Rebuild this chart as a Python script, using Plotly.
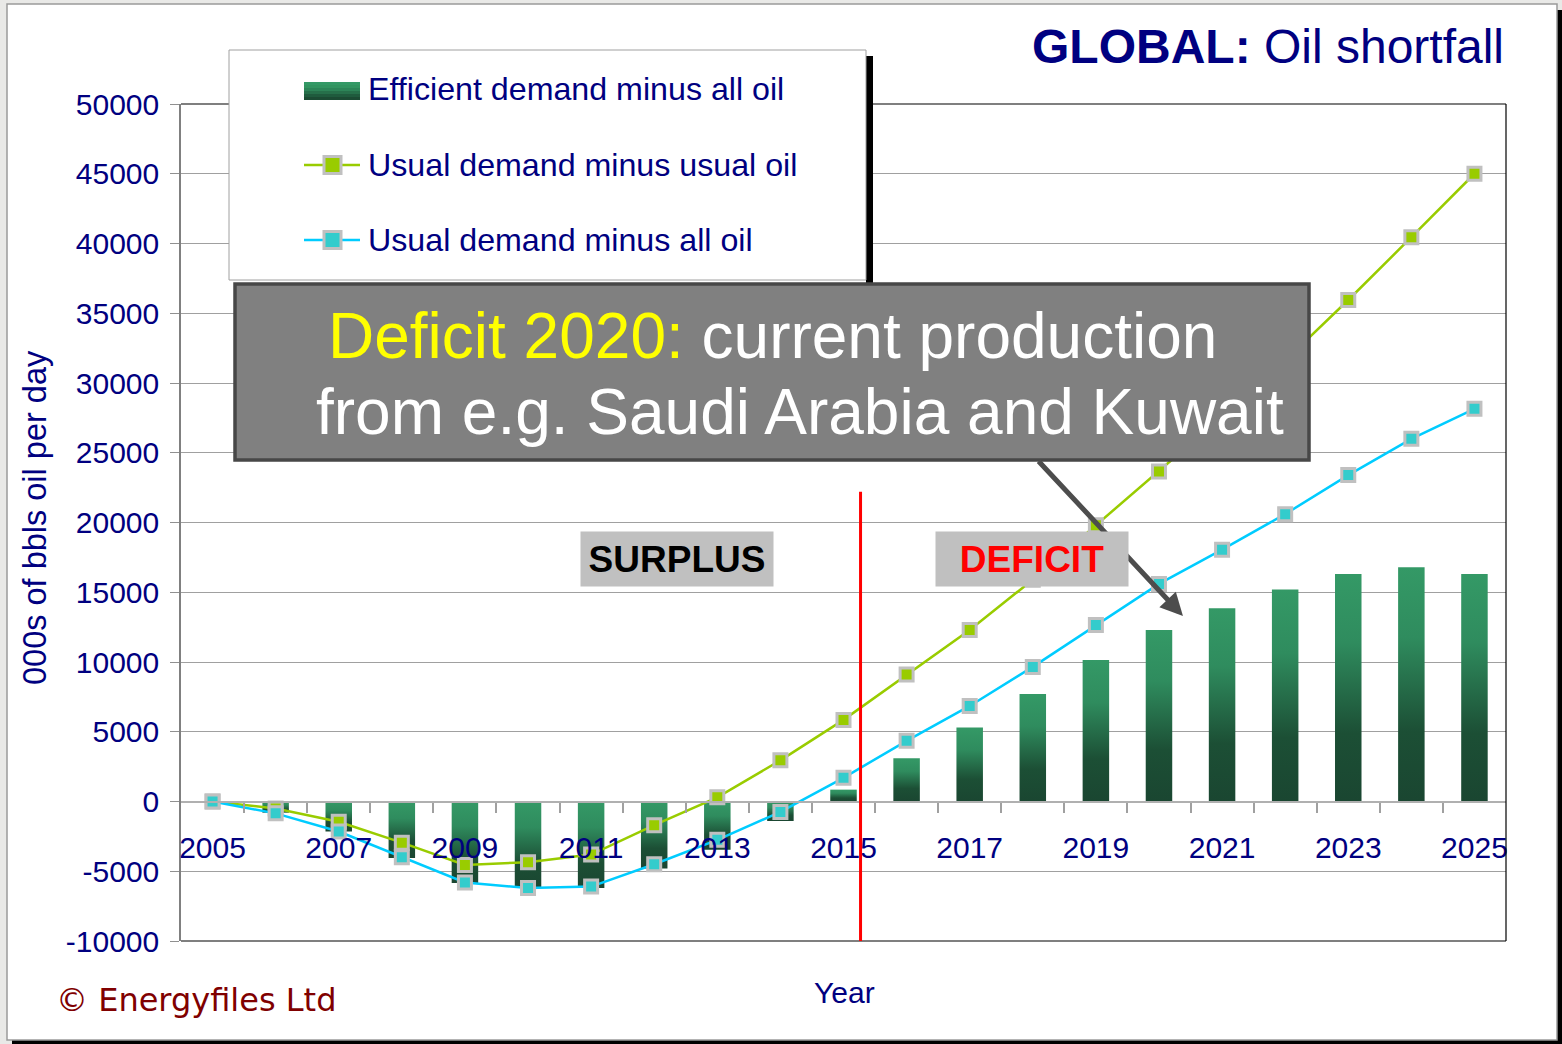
import plotly.graph_objects as go

# ---- data (thousand barrels of oil per day) ----
years = list(range(2005, 2026))
efficient_minus_all = [0, -800, -2150, -4050, -5850, -6200, -6200, -4800, -3450, -1400,
                       850, 3100, 5300, 7700, 10150, 12300, 13850, 15200, 16300, 16800, 16300]
usual_minus_usual = [0, -500, -1450, -2950, -4550, -4350, -3800, -1700, 300, 2950,
                     5850, 9100, 12300, 15900, 19800, 23650, 27600, 31600, 35950, 40450, 45000]
usual_minus_all = [0, -850, -2150, -4000, -5800, -6200, -6100, -4500, -2750, -750,
                   1700, 4350, 6850, 9650, 12650, 15600, 18050, 20600, 23400, 26000, 28150]
year_ticks = list(range(2005, 2026, 2))
value_ticks = list(range(-10000, 50001, 5000))
series_names = ["Efficient demand minus all oil", "Usual demand minus usual oil",
                "Usual demand minus all oil"]
divide_year = 2015.27

W, H = 1562, 1044
L, R, T, B = 181, 1506, 104, 941
NAVY = "#000080"
GREEN = "#99cc00"
CYAN_LINE = "#00ccff"
CYAN_FILL = "#33cccc"
BAR_SCALE = [[0, "#1a4631"], [0.3, "#1c4f35"], [0.7, "#2f8c5e"], [1, "#349966"]]
FONT = "Liberation Sans, Arial"


def px(x):
    return (x - L) / (R - L)


def py(y):
    return (B - y) / (B - T)


fig = go.Figure()

# bars with a vertical shade, one filled box per year
half = 0.21
for yr, v in zip(years, efficient_minus_all):
    if v == 0:
        continue
    fig.add_trace(go.Scatter(
        x=[yr - half, yr + half, yr + half, yr - half, yr - half],
        y=[0, 0, v, v, 0],
        mode="lines", fill="toself", line=dict(width=0),
        fillgradient=dict(type="vertical", colorscale=BAR_SCALE),
        hoverinfo="skip", showlegend=False,
    ))

marker_common = dict(symbol="square", size=13, line=dict(color="#c0c0c0", width=3))
fig.add_trace(go.Scatter(
    x=years, y=usual_minus_usual, mode="lines+markers", name=series_names[1],
    line=dict(color=GREEN, width=2.5),
    marker=dict(color=GREEN, **marker_common), showlegend=False,
))
fig.add_trace(go.Scatter(
    x=years, y=usual_minus_all, mode="lines+markers", name=series_names[2],
    line=dict(color=CYAN_LINE, width=2.5),
    marker=dict(color=CYAN_FILL, **marker_common), showlegend=False,
))

shapes = []
# white panel with shadow
shapes.append(dict(type="rect", xref="paper", yref="paper", layer="below",
                   x0=px(1557), x1=px(1562), y0=py(1044), y1=py(10),
                   fillcolor="#000000", line=dict(width=0)))
shapes.append(dict(type="rect", xref="paper", yref="paper", layer="below",
                   x0=px(12), x1=px(1562), y0=py(1044), y1=py(1040),
                   fillcolor="#000000", line=dict(width=0)))
shapes.append(dict(type="rect", xref="paper", yref="paper", layer="below",
                   x0=px(7), x1=px(1557), y0=py(1040), y1=py(4),
                   fillcolor="#ffffff", line=dict(color="#9a9a9a", width=1.5)))

# plot frame (top, right, bottom)
for x0, y0, x1, y1 in [(0, 1, 1, 1), (1, 0, 1, 1), (0, 0, 1, 0)]:
    shapes.append(dict(type="line", xref="paper", yref="paper", layer="above",
                       x0=x0, y0=y0, x1=x1, y1=y1, line=dict(color="#000000", width=1.2)))

# surplus / deficit divider
shapes.append(dict(type="line", xref="x", yref="y", layer="above",
                   x0=divide_year, x1=divide_year, y0=-10000, y1=22200,
                   line=dict(color="#ff0000", width=3)))

# legend box with shadow
shapes.append(dict(type="rect", xref="paper", yref="paper", layer="above",
                   x0=px(866), x1=px(873), y0=py(285), y1=py(56),
                   fillcolor="#000000", line=dict(width=0)))
shapes.append(dict(type="rect", xref="paper", yref="paper", layer="above",
                   x0=px(229), x1=px(866), y0=py(280), y1=py(50),
                   fillcolor="#ffffff", line=dict(color="#a0a0a0", width=1)))

# legend key: shaded bar swatch
sw_top, sw_bot = 82, 100
bands = ["#349966", "#329460", "#2d8558", "#26704a", "#1f5b3d", "#1b4b33"]
bh = (sw_bot - sw_top) / len(bands)
for i, c in enumerate(bands):
    shapes.append(dict(type="rect", xref="paper", yref="paper", layer="above",
                       x0=px(304), x1=px(360), y0=py(sw_top + (i + 1) * bh), y1=py(sw_top + i * bh),
                       fillcolor=c, line=dict(width=0)))
# legend key: line + marker
for yc, lc, fc in [(165, GREEN, GREEN), (240, CYAN_LINE, CYAN_FILL)]:
    shapes.append(dict(type="line", xref="paper", yref="paper", layer="above",
                       x0=px(304), x1=px(360), y0=py(yc), y1=py(yc),
                       line=dict(color=lc, width=2.5)))
    shapes.append(dict(type="rect", xref="paper", yref="paper", layer="above",
                       x0=px(324), x1=px(341), y0=py(yc + 8.5), y1=py(yc - 8.5),
                       fillcolor=fc, line=dict(color="#c0c0c0", width=3)))

# callout box
shapes.append(dict(type="rect", xref="paper", yref="paper", layer="above",
                   x0=px(235), x1=px(1309), y0=py(460), y1=py(284),
                   fillcolor="#808080", line=dict(color="#474747", width=3.5)))

annotations = []
for text, yc in zip(series_names, [89, 165, 240]):
    annotations.append(dict(xref="paper", yref="paper", x=px(366), y=py(yc),
                            xanchor="left", yanchor="middle", showarrow=False,
                            text=text, font=dict(family=FONT, size=32.2, color=NAVY)))

annotations.append(dict(xref="paper", yref="paper", x=px(1506), y=py(46),
                        xanchor="right", yanchor="middle", showarrow=False,
                        text="<b>GLOBAL:</b> Oil shortfall",
                        font=dict(family=FONT, size=48, color=NAVY)))

annotations.append(dict(xref="paper", yref="paper", x=px(772), y=py(336),
                        xanchor="center", yanchor="middle", showarrow=False,
                        text="<span style='color:#ffff00'>Deficit 2020:</span> current production",
                        font=dict(family=FONT, size=64, color="#ffffff")))
annotations.append(dict(xref="paper", yref="paper", x=px(800), y=py(412),
                        xanchor="center", yanchor="middle", showarrow=False,
                        text="from e.g. Saudi Arabia and Kuwait",
                        font=dict(family=FONT, size=64, color="#ffffff")))

# pointer from callout toward 2020 bars
annotations.append(dict(xref="x", yref="y", axref="x", ayref="y",
                        x=2020.38, y=13300, ax=2018.07, ay=24500,
                        text="", showarrow=True, arrowhead=2, arrowsize=0.9,
                        arrowwidth=5, arrowcolor="#4d4d4d"))

# region labels
annotations.append(dict(xref="paper", yref="paper", x=px(676.5), y=py(559),
                        xanchor="center", yanchor="middle", showarrow=False,
                        text="<b>SURPLUS</b>", bgcolor="#c0c0c0",
                        width=176, height=38, borderpad=8,
                        font=dict(family=FONT, size=37, color="#000000")))
annotations.append(dict(xref="paper", yref="paper", x=px(1032), y=py(559),
                        xanchor="center", yanchor="middle", showarrow=False,
                        text="<b>DEFICIT</b>", bgcolor="#c0c0c0",
                        width=176, height=38, borderpad=8,
                        font=dict(family=FONT, size=37, color="#ff0000")))

# axis titles and credit
annotations.append(dict(xref="paper", yref="paper", x=px(35), y=py(518),
                        xanchor="center", yanchor="middle", showarrow=False, textangle=-90,
                        text="000s of bbls oil per day",
                        font=dict(family=FONT, size=32.5, color=NAVY)))
annotations.append(dict(xref="paper", yref="paper", x=px(844), y=py(992),
                        xanchor="center", yanchor="middle", showarrow=False,
                        text="Year",
                        font=dict(family=FONT, size=30, color=NAVY)))
annotations.append(dict(xref="paper", yref="paper", x=px(54), y=py(1000),
                        xanchor="left", yanchor="middle", showarrow=False,
                        text="© Energyfiles Ltd",
                        font=dict(family="DejaVu Sans, Verdana", size=32, color="#800000")))

fig.update_layout(
    width=W, height=H,
    margin=dict(l=L, r=W - R, t=T, b=H - B, pad=0),
    paper_bgcolor="#e9e9e7", plot_bgcolor="#ffffff",
    showlegend=False,
    shapes=shapes, annotations=annotations,
    xaxis=dict(
        range=[2004.5, 2025.5], anchor="free", position=1 / 6,
        tickvals=year_ticks, ticktext=[str(y) for y in year_ticks],
        ticks="", ticklabelstandoff=19,
        tickfont=dict(family=FONT, size=30, color=NAVY),
        showline=True, linecolor="#b0b0b0", linewidth=2,
        showgrid=False, zeroline=False,
        minor=dict(tickvals=[y + 0.5 for y in years[:-1]], ticks="outside",
                   ticklen=10, tickcolor="#a0a0a0", tickwidth=1.5, showgrid=False),
    ),
    yaxis=dict(
        range=[-10000, 50000],
        tickvals=value_ticks, ticktext=[str(v) for v in value_ticks],
        ticks="outside", ticklen=9, tickcolor="#909090", ticklabelstandoff=5,
        tickfont=dict(family=FONT, size=30, color=NAVY),
        showline=True, linecolor="#808080", linewidth=1.5,
        showgrid=True, gridcolor="#a0a0a0", gridwidth=1.2,
        zeroline=False,
    ),
)

fig.write_html("out.html")
